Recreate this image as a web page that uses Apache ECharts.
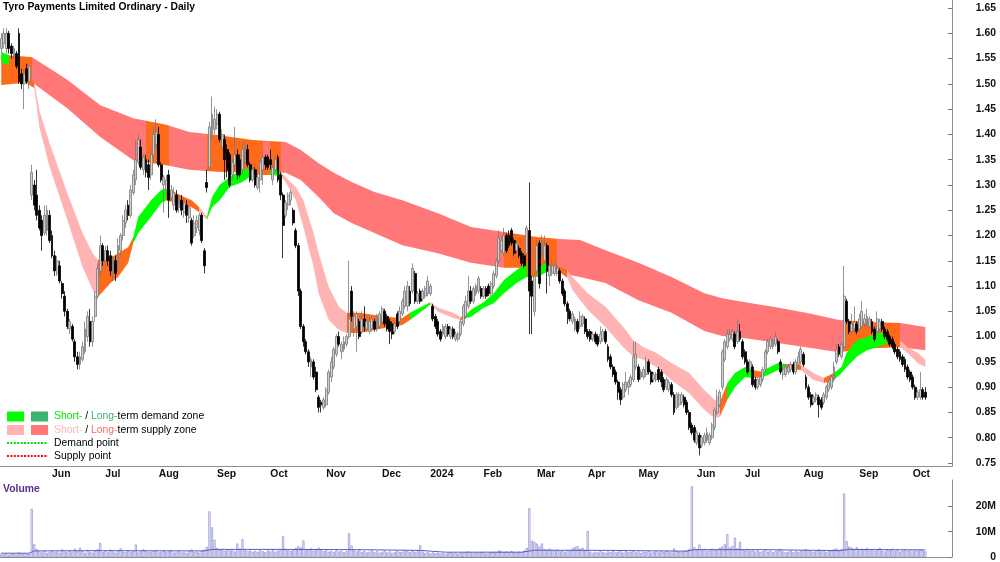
<!DOCTYPE html>
<html>
<head>
<meta charset="utf-8">
<title>Tyro Payments Limited Ordinary - Daily</title>
<script src="https://cdn.jsdelivr.net/npm/echarts@6/dist/echarts.min.js"></script>
<style>
  html, body { margin: 0; padding: 0; background: #fff; }
  #chart { width: 1000px; height: 562px; }
</style>
</head>
<body>
<div id="chart"></div>
<script>
// trading calendar (ASX)
const startDate = '2023-05-04';
const barCount = 365;
const padCount = 10;
const holidays = ['2023-06-12', '2023-12-25', '2023-12-26', '2024-01-01', '2024-01-26',
                  '2024-03-29', '2024-04-01', '2024-04-25', '2024-06-10'];
const monthLabels = ['Jun', 'Jul', 'Aug', 'Sep', 'Oct', 'Nov', 'Dec', '2024', 'Feb', 'Mar',
                     'Apr', 'May', 'Jun', 'Jul', 'Aug', 'Sep', 'Oct'];
const priceTicks = [0.75, 0.8, 0.85, 0.9, 0.95, 1.0, 1.05, 1.1, 1.15, 1.2, 1.25, 1.3,
                    1.35, 1.4, 1.45, 1.5, 1.55, 1.6, 1.65];
const volumeTicks = [0, 10e6, 20e6];

// daily bars in cents: [open, close, low, high]
const candles = [
  [157,159,156,160],[158,160,157,161],[157,160,156,161],[160,157,156,160.5],[157.5,156,155,158],
  [155.5,157,155,157.5],[156,153.5,153,156.5],[160,150.5,150,161],[152,150,149,153],[150,152,145,153],
  [153,150.5,150,154],[150.5,153.5,149,154],[128,132.5,127,134],[130,126,125,131],[128,124,123,133],
  [125,121.5,121,126],[123,120,117,124],[120.5,124,120,126],[121,125,120,126],[124,119,118.5,125],
  [120,116,115.5,121],[116,113,112,117],[112.5,115,112,116],[114,111,110.5,115],[110.5,108.5,107.5,111],
  [108,105,104,109],[105,102,101.5,105.5],[101.5,103,100.5,103.5],[102,99.5,99,102.5],[99,96,95,99.5],
  [96,94.5,93.5,97],[94.5,96,93.5,97],[95.5,98,95,99],[97,101.5,96.5,103],[100,104,99,105],
  [103,99,98,105.5],[99,103,98,104],[104,108,103,109],[108,113.5,107.5,114.5],[113,118,112,120],
  [118,115,114,118.5],[115,117,114,118],[117,115,114,118],[116,113,112,117],[112.5,115.5,111,116],
  [115,112.5,111,116],[114,118,113,119.5],[117,120,116,120.5],[120,123,119,124],[122.5,125,121.5,126],
  [126,124,123,127],[124,129,123.5,130],[128.5,132,128,133],[131,135,130,139],[134.5,139,134,140],
  [137.5,133.5,133,139],[133,135.5,132,136],[135,132.5,131.5,136],[134,131.5,129,135],[132,136,131,137],
  [136,140,135,141.5],[138,140.5,137,143],[140,134,133.5,141.5],[134,131,130.5,134.5],[130,131.5,124.5,132],
  [129,131,128,132],[132,127,123.5,133],[127.5,129,127,130],[126,128.5,125,129.5],[128,125,124.5,129],
  [125.5,127,124.5,128],[127,125,124,128],[124.5,126.5,123.5,127.5],[126,124,122.5,127],[123.5,125.5,122.5,126],
  [123,118.5,118,123.5],[120,122.5,119.5,124],[121.5,123,120.5,124],[121,124,120,124.5],[124,119,118.5,124.5],
  [117,114,112.5,117.5],[130.5,129.5,128.5,133],[133.5,141.5,133,142.5],[140,144,139,147.5],[141,143,140,145.5],
  [142,144,141,145],[144,139,138.5,144.5],[137.5,140,137,141],[139,135,131,140],[137,133,131.5,138],
  [136,130,129.5,136.5],[132,134.5,131,135],[134,136,133,141.5],[136,132,131,137],[135,132,131.5,136],
  [133,137,132,138.5],[135,138,134,138.5],[137,134,133.5,138],[134,131,130.5,134.5],[131,133,130.5,134],
  [133,130,129.5,133.5],[129.5,131.5,129,132],[131,134.5,128.5,135],[133,135.5,130,136],[135.5,134,133,136],
  [135.5,133.5,133,136],[135,134,133,137],[131,133.5,130,134],[133,135,132.5,136],[135.5,131,130.5,136],
  [132,128,127,132.5],[128,122,115.5,128.5],[124,126.5,123.5,127],[126,128,125,128.5],[127,128.5,126,129],
  [125,122.5,122,125.5],[121,118,117.5,121.5],[118,109,108,118.5],[109,102,101.5,109.5],[102,99,98,102.5],
  [99,97,96.5,99.5],[97,95,94,97.5],[94,95.5,92,96],[95,92,91.5,95.5],[93,89.5,89,94],
  [88,86,85,88.5],[87,86.5,85,87.5],[86,87.5,85.5,88],[86.5,89.5,86,90],[89,93,88.5,93.5],
  [92,95,91,96],[94,97.5,93.5,98],[96.5,100,96,100.5],[100,98.5,98,101],[97,98.5,95.5,99],
  [97.5,99,97,100],[98.5,100,98,100.5],[100,103.5,99.5,115],[109,104,103,110],[101.5,104,100,105],
  [102,104.5,97,105],[103,100,99.5,103.5],[101,103.5,100.5,105],[103.5,102,101,106],[101.5,103,101,103.5],
  [101,103,100.5,104],[101.5,103.5,101,104],[103,101.5,101,103.5],[101.5,104,101,104.5],[102,104.5,101.5,105],
  [103,105.5,102.5,106],[105,102.5,102,105.5],[104,101.5,101,104.5],[103,101,98.5,103.5],[102.5,100.5,99.5,103],
  [101,102.5,100.5,103],[104.5,102,101.5,105],[103,105,102.5,106],[104.5,107,104,107.5],[106,109,105.5,110],
  [106,110,105,111],[109,106.5,106,110],[109,113.5,108.5,114.5],[112.5,107,106.5,113],[107,108.5,106.5,109],
  [109,107,106.5,109.5],[107.5,109,107,109.5],[108,109.5,107.5,110],[108.5,111,108,112],[108.5,110,108,110.5],
  [106,103.5,103,106.5],[104,102,101.5,104.5],[103,100.5,100,103.5],[101,99.5,99,101.5],[100.5,102,100,102.5],
  [100,102,99.5,102.5],[102,100.5,100,102.5],[100,101.5,99.5,102],[101.5,100,99.5,102],[99.5,100.5,99,101],
  [99.5,100.5,99,101],[100.5,103,100,103.5],[102.5,106,102,106.5],[104,107,103.5,108],[106,109,105.5,112],
  [109,107,106.5,110],[107,109.5,106.5,110],[108.5,110,108,110.5],[109,111.5,108.5,112],[109.5,108,107.5,110],
  [108,109.5,107.5,110],[109.5,108,107.5,110],[110,108.5,108,110.5],[108.5,110.5,108,111],[110,112.5,109.5,113],
  [112,115,111.5,115.5],[115,119.5,114.5,121],[117,119,116.5,120],[116.5,120,116,121.5],[120,117,116.5,120.5],
  [120,118,117.5,121],[121,118.5,118,121.5],[119,116.5,116,119.5],[117,118.5,116.5,119],[117.5,116,115.5,118],
  [116.5,114.5,114,117],[116,114,113.5,116.5],[116.5,121.5,116,122],[121,109,100.5,130.5],[111,108,100.5,112],
  [105,112,104,113],[113,118,112.5,119],[118.5,110.5,109.5,119],[116.5,119,116,120],[115,118,114.5,120],
  [118,113,108.5,118.5],[112,114,110,114.5],[112.5,114,112,115],[112.5,114,112,115],[112.5,113.5,112,114.5],
  [113,111,110.5,113.5],[111,108.5,108,111.5],[109,106.5,106,109.5],[106.5,105,102.5,107],[105,103.5,103,105.5],
  [103,104.5,102.5,105],[101.5,103.5,101,104],[103,101,100.5,103.5],[102,104,101.5,105],[102.5,104,102,104.5],
  [103.5,101,100.5,104],[101,100,99.5,101.5],[101,99.5,99,101.5],[99.5,100.5,99,101],[100.5,99,98.5,101],
  [100,98.5,98,100.5],[99,100.5,98.5,102],[99.5,101,99,101.5],[101,99,98.5,101.5],[98,95.5,95,98.5],
  [96,94,93.5,96.5],[94,92.5,92,94.5],[93,91,90.5,93.5],[91,89,87.5,91.5],[89.5,87.5,86.5,90],
  [88,90.5,87.5,91],[89.5,91,89,93],[90,91,88.5,91.5],[90.5,92,90,92.5],[91.5,96,91,99],
  [94,96.5,93.5,99],[94,91.5,91,94.5],[92,93,91.5,93.5],[92,93.5,91.5,94],[92.5,95,92,96],
  [95,93,92.5,95.5],[93,91,90.5,93.5],[91.5,92.5,91,93],[91.5,92.5,91,93],[93.5,91.5,91,94],
  [93,91,90,93.5],[91.5,89.5,89,92],[90,91.5,89.5,92],[89.5,91,89,91.5],[90.5,88.5,88,91],
  [88.5,85,84.5,89],[86,88.5,85.5,89],[86.5,88.5,86,89],[87,88.5,86.5,89],[88,86.5,86,88.5],
  [87,85,84.5,87.5],[85,82,81.5,85.5],[82.5,81,80.5,83],[82,79.5,79,82.5],[79,81,78.5,81.5],
  [80.5,78,76.5,81],[78.5,80,78,80.5],[79,80.5,78.5,81],[79.5,81,79,82],[79,80.5,78.5,81],
  [80,82.5,79.5,83],[82,85.5,81.5,86],[85,88,84.5,89.5],[86.5,89,86,89.5],[90,97,89.5,97.5],
  [95.5,99,95,99.5],[98,100.5,97.5,101.5],[99.5,100.5,99,101.5],[99.5,101,99,101.5],[100.5,98,97.5,101],
  [99,101,98.5,103.5],[101,99.5,99,102.5],[99,96,95.5,99.5],[97,95,94.5,97.5],[95,93,92.5,95.5],
  [93.5,95,93,95.5],[94,90.5,90,94.5],[91.5,90,89.5,92],[90,91.5,89.5,92],[90.5,92,90,92.5],
  [91.5,93.5,91,94],[93.5,97,93,97.5],[97,99,96.5,99.5],[98,99.5,97.5,100],[98,99,97.5,99.5],
  [98.5,100,98,101],[99,97,96.5,99.5],[95,93,92.5,95.5],[92.5,93.5,91.5,94],[92.5,94,92,94.5],
  [93,94,92.5,94.5],[93.5,94.5,93,95],[94.5,93,92.5,95],[93,95,92.5,95.5],[94.5,96,94,97],
  [95,97.5,94.5,98],[96.5,94.5,94,97],[92,90,89.5,92.5],[90,88,87.5,90.5],[88.5,86.5,86,89],
  [87,88,86.5,88.5],[87.5,88.5,87,89],[88,86.5,84,88.5],[87.5,86,85.5,88],[87,88.5,86.5,89],
  [88,90,87.5,90.5],[89.5,91,89,91.5],[90,92,89.5,92.5],[91.5,94,91,95],[95,97.5,94.5,98.5],
  [98,96.5,96,98.5],[96,98.5,95.5,99],[98,108,97.5,114],[107,103,102.5,107.5],[103,101,100.5,103.5],
  [101,102.5,100.5,104.5],[101.5,103,100.5,106],[102.5,101,100.5,103],[101.5,103.5,101,104.5],[102,105,101.5,107],
  [102.5,103.5,102,104.5],[102.5,104,102,105.5],[102,103.5,101.5,104],[103,101,100.5,103.5],[101.5,99.5,99,102],
  [101,103.5,100.5,105],[101.5,103,101,103.5],[103,101.5,101,103.5],[101.5,100,99.5,102],[101,99.5,99,101.5],
  [100,98.5,98,100.5],[99.5,98,97.5,100],[98.5,97,96.5,99],[97.5,96,95.5,98],[97,95.5,95,97.5],
  [96,94.5,94,96.5],[95.5,93.5,93,96],[94,92,91.5,94.5],[93,91.5,91,93.5],[92,90,89.5,92.5],
  [90,88,87.5,90.5],[88,89,87.5,89.5],[88,89.5,87.5,93],[89.5,88,87.5,90],[89,88,87.5,90]
];

// daily volume, millions of shares
const volume = [
  1.2,1.0,1.4,0.9,1.1,1.3,1.0,1.8,1.2,1.5,1.1,1.3,19.0,5.0,3.1,2.2,1.8,2.4,1.6,2.0,
  2.6,1.9,2.2,1.7,3.0,2.1,1.8,2.5,2.0,3.2,2.2,3.6,2.4,1.6,2.8,2.0,1.7,2.3,3.1,5.6,
  2.0,2.4,1.8,2.9,2.2,1.7,2.5,3.4,2.1,1.9,2.6,2.0,2.3,4.9,1.8,2.2,3.0,2.4,1.9,2.1,
  2.3,2.7,1.8,2.0,2.5,1.9,2.2,2.8,1.7,2.1,2.4,1.8,2.0,1.6,2.3,2.9,1.9,2.1,1.7,2.6,
  3.0,4.0,18.0,11.7,6.8,3.5,2.9,3.2,2.4,2.7,3.1,2.6,2.2,5.3,3.3,7.0,2.9,2.3,2.6,2.1,
  2.4,2.0,2.7,2.3,1.9,2.6,2.2,2.8,2.1,2.5,3.0,8.3,3.2,2.6,2.4,2.9,3.5,4.2,3.8,6.5,
  3.1,2.7,3.4,2.5,2.9,3.6,2.8,2.3,2.6,2.1,2.4,2.0,2.7,2.2,2.5,1.9,2.3,9.4,4.5,2.6,
  2.2,2.8,2.0,2.4,1.8,2.1,2.6,1.9,2.3,1.7,2.0,2.5,1.8,2.2,1.6,2.0,2.4,1.9,2.1,2.7,
  2.3,1.9,2.6,2.0,2.2,4.6,2.1,1.6,1.9,1.4,1.8,1.5,1.7,1.3,1.6,1.2,1.5,1.8,1.4,1.6,
  1.3,1.7,1.5,1.9,2.2,1.6,1.4,1.8,1.5,2.0,1.7,1.3,1.6,1.9,2.1,1.8,2.6,2.3,1.9,2.2,
  1.8,2.4,2.0,1.7,2.1,1.9,2.5,3.6,19.2,6.4,6.0,5.3,4.2,5.3,3.1,2.8,3.3,2.6,2.4,2.9,
  2.2,2.5,2.0,2.7,2.3,3.4,3.9,4.3,3.2,3.6,2.8,10.3,2.1,1.6,2.0,1.8,2.3,1.9,1.7,2.2,
  1.9,2.4,1.8,2.1,2.6,1.7,2.3,1.9,2.0,2.5,1.8,2.2,1.6,2.1,1.9,2.4,1.7,2.0,2.3,1.8,
  2.2,1.9,2.6,2.0,1.8,3.4,2.3,2.1,1.9,2.4,2.7,3.1,27.9,3.8,2.9,4.9,2.6,3.2,2.4,2.8,
  3.3,2.6,3.0,3.6,4.1,5.0,9.0,3.7,4.3,7.6,3.4,6.0,3.0,2.6,3.2,2.4,2.9,2.2,2.6,2.0,
  2.4,2.8,2.1,2.5,1.9,2.3,2.7,3.2,2.2,1.8,2.1,2.6,1.9,2.3,2.0,2.4,2.8,3.1,2.6,2.3,
  2.0,2.5,3.0,2.2,2.7,1.9,2.3,2.6,3.1,3.4,2.8,3.2,25.0,6.2,4.1,3.6,3.0,3.8,2.7,3.3,
  2.9,3.5,2.6,3.1,2.4,2.8,3.6,2.5,2.2,2.9,2.6,3.2,2.4,2.7,2.1,2.5,3.0,2.3,2.6,2.2,
  2.8,2.4,3.1,2.5,2.2
];

// volume average line, read at a few days (millions)
const volAvgDay = [0, 11, 13, 40, 80, 83, 110, 140, 165, 175, 205, 210, 240, 270, 273, 300, 330, 334, 364];
const volAvgVal = [1.5, 1.5, 2.4, 2.5, 2.4, 3.0, 3.0, 2.9, 2.6, 1.9, 1.9, 2.7, 2.6, 2.3, 2.9, 2.9, 2.5, 3.0, 2.8];

// long-term zone edges
const longDay = [0, 12, 26, 39, 52, 65, 74, 85, 99, 112, 118, 125, 131, 138, 147, 158, 172, 185,
                 198, 211, 220, 228, 238, 251, 264, 277, 284, 293, 304, 317, 330, 343, 354, 364];
const longHi = [1.557, 1.553, 1.508, 1.458, 1.432, 1.419, 1.405, 1.399, 1.389, 1.385, 1.369, 1.343,
                1.324, 1.306, 1.286, 1.270, 1.244, 1.217, 1.207, 1.197, 1.193, 1.191, 1.171, 1.146,
                1.118, 1.086, 1.076, 1.068, 1.059, 1.047, 1.033, 1.029, 1.027, 1.019];
const longLo = [1.498, 1.504, 1.452, 1.395, 1.349, 1.339, 1.330, 1.326, 1.324, 1.324, 1.310, 1.276,
                1.244, 1.225, 1.205, 1.181, 1.165, 1.146, 1.136, 1.136, 1.126, 1.118, 1.106, 1.072,
                1.047, 1.011, 1.001, 0.997, 0.989, 0.979, 0.969, 0.977, 0.979, 0.973];
const longZones = [[0, 12, 'in'], [12, 57, 'supply'], [57, 66, 'in'], [66, 81, 'supply'], [81, 103, 'in'],
                   [103, 106, 'supply'], [106, 110, 'in'], [110, 198, 'supply'], [198, 219, 'in'],
                   [219, 332, 'supply'], [332, 354, 'in'], [354, 364, 'supply']];

// short-term zone edges
const shortDay = [0, 3, 7, 11, 13, 15, 19, 26, 32, 36, 38, 43, 46, 50, 52, 54, 59, 63, 65, 72, 75, 78,
                  81, 83, 86, 90, 95, 99, 106, 110, 112, 116, 119, 123, 125, 129, 133, 136, 141, 147,
                  153, 158, 161, 169, 172, 178, 181, 183, 185, 190, 194, 198, 203, 207, 211, 215, 220,
                  223, 225, 231, 238, 245, 249, 253, 258, 264, 271, 277, 281, 283, 286, 289, 293, 296,
                  300, 302, 306, 309, 315, 320, 324, 328, 331, 333, 337, 341, 345, 349, 354, 357, 361, 364];
const shortHi = [1.563, 1.557, 1.537, 1.512, 1.504, 1.448, 1.383, 1.284, 1.205, 1.165, 1.152, 1.156,
                 1.165, 1.177, 1.197, 1.237, 1.270, 1.290, 1.294, 1.276, 1.270, 1.256, 1.237, 1.276,
                 1.300, 1.316, 1.330, 1.334, 1.334, 1.326, 1.316, 1.296, 1.270, 1.205, 1.165, 1.098,
                 1.059, 1.047, 1.047, 1.043, 1.039, 1.037, 1.047, 1.068, 1.057, 1.047, 1.039, 1.043,
                 1.053, 1.068, 1.086, 1.112, 1.132, 1.146, 1.136, 1.146, 1.138, 1.132, 1.118, 1.086,
                 1.059, 1.019, 0.993, 0.979, 0.968, 0.948, 0.928, 0.894, 0.875, 0.869, 0.908, 0.928,
                 0.940, 0.934, 0.930, 0.938, 0.948, 0.946, 0.944, 0.928, 0.918, 0.928, 0.940, 0.968,
                 0.993, 0.999, 1.007, 1.007, 0.993, 0.979, 0.968, 0.954];
const shortLo = [1.543, 1.537, 1.517, 1.498, 1.492, 1.415, 1.336, 1.231, 1.138, 1.092, 1.078, 1.106,
                 1.118, 1.146, 1.185, 1.205, 1.237, 1.264, 1.270, 1.260, 1.256, 1.246, 1.231, 1.256,
                 1.270, 1.296, 1.306, 1.320, 1.320, 1.318, 1.306, 1.270, 1.217, 1.138, 1.086, 1.033,
                 1.013, 1.007, 1.007, 1.013, 1.019, 1.023, 1.033, 1.063, 1.049, 1.037, 1.033, 1.037,
                 1.039, 1.057, 1.066, 1.086, 1.106, 1.118, 1.118, 1.128, 1.128, 1.116, 1.092, 1.053,
                 1.019, 0.979, 0.960, 0.954, 0.940, 0.914, 0.888, 0.855, 0.839, 0.841, 0.875, 0.900,
                 0.920, 0.918, 0.920, 0.924, 0.934, 0.936, 0.934, 0.914, 0.908, 0.914, 0.928, 0.940,
                 0.960, 0.973, 0.979, 0.987, 0.979, 0.968, 0.948, 0.940];
const shortZones = [[0, 3, 'demand'], [3, 13, 'in'], [13, 38, 'supply'], [38, 52, 'in'], [52, 65, 'demand'],
                    [65, 78, 'in'], [78, 81, 'supply'], [81, 99, 'demand'], [99, 106, 'in'], [106, 110, 'demand'],
                    [110, 136, 'supply'], [136, 161, 'in'], [161, 169, 'demand'], [169, 181, 'supply'],
                    [181, 183, 'in'], [183, 207, 'demand'], [207, 211, 'in'], [211, 215, 'demand'],
                    [215, 223, 'in'], [223, 283, 'supply'], [283, 286, 'in'], [286, 296, 'demand'],
                    [296, 300, 'in'], [300, 309, 'demand'], [309, 315, 'in'], [315, 324, 'supply'],
                    [324, 328, 'in'], [328, 349, 'demand'], [349, 354, 'in'], [354, 364, 'supply']];

const FONT = '"Liberation Sans", Arial, Helvetica, sans-serif';
const ORANGE = '#ff6a1a';
const longColors = { supply: '#ff7777', in: ORANGE };
const shortColors = { demand: '#00ff00', supply: '#ffb3b3', in: ORANGE };

// dates of trading days, skipping weekends and holidays
function tradingDays(start, n) {
  const out = [];
  const d = new Date(start + 'T00:00:00Z');
  while (out.length < n) {
    const wd = d.getUTCDay();
    const iso = d.toISOString().slice(0, 10);
    if (wd !== 0 && wd !== 6 && holidays.indexOf(iso) < 0) out.push(iso);
    d.setUTCDate(d.getUTCDate() + 1);
  }
  return out;
}
const dates = tradingDays(startDate, barCount + padCount);

// first trading day of each month gets a tick + label
const monthStart = {};
let mi = 0;
dates.forEach((dt, i) => {
  if (i > 0 && dt.slice(5, 7) !== dates[i - 1].slice(5, 7) && mi < monthLabels.length) {
    monthStart[i] = monthLabels[mi++];
  }
});

// zone band as one polygon, coloured by a hard-stop gradient along x
function bandRenderer(day, hi, lo, zones, colors) {
  return function (params, api) {
    const top = day.map((d, i) => api.coord([d, hi[i]]));
    const bot = day.map((d, i) => api.coord([d, lo[i]])).reverse();
    const x0 = top[0][0];
    const x1 = top[top.length - 1][0];
    const pos = d => Math.min(1, Math.max(0, (api.coord([d, 1])[0] - x0) / (x1 - x0)));
    const stops = [];
    zones.forEach(z => {
      stops.push({ offset: pos(z[0]), color: colors[z[2]] });
      stops.push({ offset: pos(z[1]), color: colors[z[2]] });
    });
    return {
      type: 'polygon',
      shape: { points: top.concat(bot) },
      style: { fill: new echarts.graphic.LinearGradient(x0, 0, x1, 0, stops, true) }
    };
  };
}

const chart = echarts.init(document.getElementById('chart'), null, { renderer: 'canvas' });

const legendText = (y, text, rich) => ({
  type: 'text', x: 54, y: y,
  style: {
    text: text, fill: '#000', fontSize: 10.4, fontFamily: FONT,
    verticalAlign: 'middle', rich: rich || {}
  }
});

const option = {
  animation: false,
  backgroundColor: '#fff',
  grid: [
    { left: 0, right: 48, top: 0, height: 466 },
    { left: 0, right: 48, top: 480, height: 82 }
  ],
  xAxis: [
    {
      type: 'category', gridIndex: 0, data: dates, boundaryGap: true,
      axisLine: { lineStyle: { color: '#8c8c8c', width: 1 } },
      axisTick: { interval: i => monthStart[i] !== undefined, length: 3, lineStyle: { color: '#555' } },
      axisLabel: {
        interval: i => monthStart[i] !== undefined,
        formatter: (v, i) => monthStart[i] || '',
        align: 'left', margin: 3, fontSize: 10.4, fontWeight: 'bold', color: '#111', fontFamily: FONT
      },
      splitLine: { show: false }
    },
    {
      type: 'category', gridIndex: 1, data: dates, boundaryGap: true, position: 'top',
      axisLine: { lineStyle: { color: '#8c8c8c' } },
      axisTick: { show: false }, axisLabel: { show: false }, splitLine: { show: false }
    }
  ],
  yAxis: [
    {
      type: 'value', gridIndex: 0, position: 'right', min: 0.744, max: 1.666,
      splitLine: { show: false },
      axisLine: { show: true, lineStyle: { color: '#8c8c8c' } },
      axisTick: { show: true, inside: true, length: 4, customValues: priceTicks, lineStyle: { color: '#777' } },
      axisLabel: {
        customValues: priceTicks, formatter: v => v.toFixed(2), align: 'right', margin: 44,
        fontSize: 10.4, fontWeight: 'bold', color: '#111', fontFamily: FONT
      }
    },
    {
      type: 'value', gridIndex: 1, position: 'right', min: 0, max: 30.4e6,
      splitLine: { show: false },
      axisLine: { show: true, lineStyle: { color: '#8c8c8c' } },
      axisTick: { show: true, inside: true, length: 4, customValues: volumeTicks, lineStyle: { color: '#777' } },
      axisLabel: {
        customValues: volumeTicks, formatter: v => (v === 0 ? '0' : (v / 1e6) + 'M'),
        align: 'right', margin: 44, fontSize: 10.4, fontWeight: 'bold', color: '#111', fontFamily: FONT
      }
    }
  ],
  series: [
    {
      name: 'Long-term zone', type: 'custom', xAxisIndex: 0, yAxisIndex: 0, z: 1, silent: true,
      data: [[0, 1]], renderItem: bandRenderer(longDay, longHi, longLo, longZones, longColors)
    },
    {
      name: 'Short-term zone', type: 'custom', xAxisIndex: 0, yAxisIndex: 0, z: 2, silent: true,
      data: [[0, 1]], renderItem: bandRenderer(shortDay, shortHi, shortLo, shortZones, shortColors)
    },
    {
      name: 'Price', type: 'candlestick', xAxisIndex: 0, yAxisIndex: 0, z: 3,
      barWidth: 2.4,
      data: candles.map(c => [c[0] / 100, c[1] / 100, c[2] / 100, c[3] / 100]),
      itemStyle: {
        color: '#cfcfcf', color0: '#000',
        borderColor: '#7a7a7a', borderColor0: '#000', borderWidth: 0.8
      }
    },
    {
      name: 'Volume', type: 'bar', xAxisIndex: 1, yAxisIndex: 1, barWidth: 2,
      data: volume.map(v => v * 1e6),
      itemStyle: { color: '#ffffff', borderColor: '#7474cc', borderWidth: 0.6 }
    },
    {
      name: 'Volume average', type: 'line', xAxisIndex: 1, yAxisIndex: 1, symbol: 'none',
      data: volAvgDay.map((d, i) => [d, volAvgVal[i] * 1e6]),
      lineStyle: { color: '#5a5ac0', width: 1 }, z: 4
    }
  ],
  graphic: [
    {
      type: 'text', x: 3, y: 7,
      style: { text: 'Tyro Payments Limited Ordinary - Daily', fill: '#000', fontSize: 10.3,
               fontWeight: 'bold', fontFamily: FONT, verticalAlign: 'middle' }
    },
    {
      type: 'text', x: 3, y: 489,
      style: { text: 'Volume', fill: '#5a2d91', fontSize: 10.4, fontWeight: 'bold',
               fontFamily: FONT, verticalAlign: 'middle' }
    },
    { type: 'rect', shape: { x: 7, y: 411.5, width: 17, height: 10 }, style: { fill: '#00ff00' } },
    { type: 'rect', shape: { x: 31, y: 411.5, width: 17, height: 10 }, style: { fill: '#3cb371' } },
    { type: 'rect', shape: { x: 7, y: 425, width: 17, height: 10 }, style: { fill: '#ffb3b3' } },
    { type: 'rect', shape: { x: 31, y: 425, width: 17, height: 10 }, style: { fill: '#ff7777' } },
    {
      type: 'line', shape: { x1: 7, y1: 443, x2: 48, y2: 443 },
      style: { stroke: '#00dd00', lineWidth: 2, lineDash: [2, 1.4] }
    },
    {
      type: 'line', shape: { x1: 7, y1: 456, x2: 48, y2: 456 },
      style: { stroke: '#ff0000', lineWidth: 2, lineDash: [2, 1.4] }
    },
    legendText(416.5, '{g|Short-} / {dg|Long-}term demand zone', {
      g: { fill: '#00e600', fontSize: 10.4, fontFamily: FONT },
      dg: { fill: '#3cb371', fontSize: 10.4, fontFamily: FONT }
    }),
    legendText(430, '{p|Short-} / {r|Long-}term supply zone', {
      p: { fill: '#ffb3b3', fontSize: 10.4, fontFamily: FONT },
      r: { fill: '#ff6666', fontSize: 10.4, fontFamily: FONT }
    }),
    legendText(443.5, 'Demand point'),
    legendText(456.5, 'Supply point')
  ]
};

chart.setOption(option);
window.addEventListener('resize', () => chart.resize());
</script>
</body>
</html>
